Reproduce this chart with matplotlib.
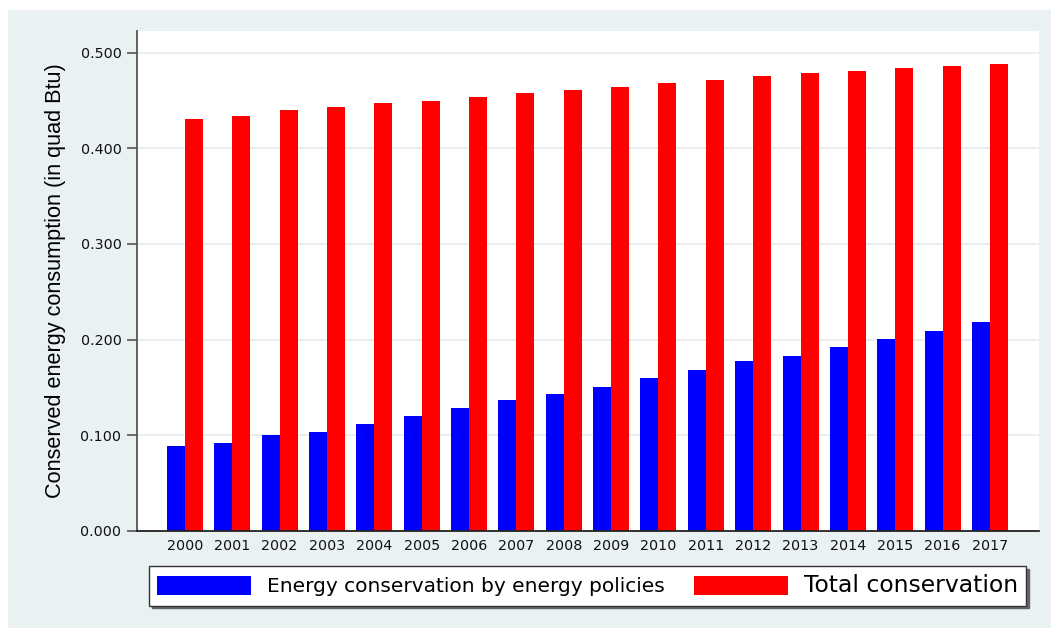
import numpy as np
import matplotlib
matplotlib.use('Agg')
from matplotlib import pyplot as plt
from matplotlib.patches import Patch, Rectangle

years = [str(y) for y in range(2000, 2018)]
policy = [0.089, 0.092, 0.100, 0.103, 0.112, 0.120, 0.129, 0.137, 0.143,
          0.151, 0.160, 0.168, 0.178, 0.183, 0.192, 0.201, 0.209, 0.218]
total = [0.431, 0.434, 0.440, 0.443, 0.447, 0.449, 0.454, 0.458, 0.461,
         0.464, 0.468, 0.471, 0.475, 0.479, 0.481, 0.484, 0.486, 0.488]
yticks = [0.0, 0.1, 0.2, 0.3, 0.4, 0.5]

bg = '#E9F1F3'
plt.rcParams['font.family'] = 'DejaVu Sans'

fig = plt.figure(figsize=(10.51, 6.28), dpi=100)
fig.patch.set_facecolor('white')
# light graph region behind everything
fig.patches.append(Rectangle((8 / 1051, 0), 1 - 8 / 1051, 618 / 628,
                             transform=fig.transFigure, facecolor=bg,
                             edgecolor='none', zorder=-10))

ax = fig.add_axes([137 / 1051, 97 / 628, 902 / 1051, 500 / 628])
ax.set_facecolor('white')

x = np.arange(len(years))
w = 0.38
ax.bar(x - w / 2, policy, width=w, color='#0000FF', linewidth=0)
ax.bar(x + w / 2, total, width=w, color='#FF0000', linewidth=0)

ax.set_xlim(-1.01, len(years) - 1 + 1.035)
ax.set_ylim(0, 0.5225)
ax.set_xticks(x)
ax.set_xticklabels(years)
ax.set_yticks(yticks)
ax.set_yticklabels(['%.3f' % v for v in yticks])
ax.tick_params(axis='x', length=0, pad=6, labelsize=10.3, colors='#111111')
ax.tick_params(axis='y', length=7.2, width=1.2, color='#555555', pad=4,
               labelsize=10.3, labelcolor='#111111')

ax.grid(axis='y', color='#E6EEF0', linewidth=1.3)
ax.set_axisbelow(True)
for s in ['top', 'right']:
    ax.spines[s].set_visible(False)
ax.spines['left'].set_color('#555555')
ax.spines['left'].set_linewidth(1.3)
ax.spines['bottom'].set_color('#222222')
ax.spines['bottom'].set_linewidth(1.3)

ax.set_ylabel('Conserved energy consumption (in quad Btu)',
              family=['Liberation Sans Narrow', 'Liberation Sans'],
              fontsize=15.6)
ax.yaxis.set_label_coords(-0.079, 0.5)

handles = [Patch(facecolor='#0000FF', edgecolor='none'),
           Patch(facecolor='#FF0000', edgecolor='none')]
leg = fig.legend(handles, ['Energy conservation by energy policies', 'Total conservation'],
                 loc='center', bbox_to_anchor=(587.5 / 1051, 1 - 586 / 628),
                 ncol=2, fontsize=14.5, handlelength=4.67, handleheight=1.09,
                 handletextpad=0.8, columnspacing=1.45, borderpad=0.4,
                 fancybox=False, framealpha=1, edgecolor='#333333',
                 shadow={'color': '#666666', 'alpha': 1})
leg.get_frame().set_linewidth(1.0)
leg.get_texts()[1].set_fontsize(16.9)

fig.savefig('out.png', dpi=100, facecolor=fig.get_facecolor())
